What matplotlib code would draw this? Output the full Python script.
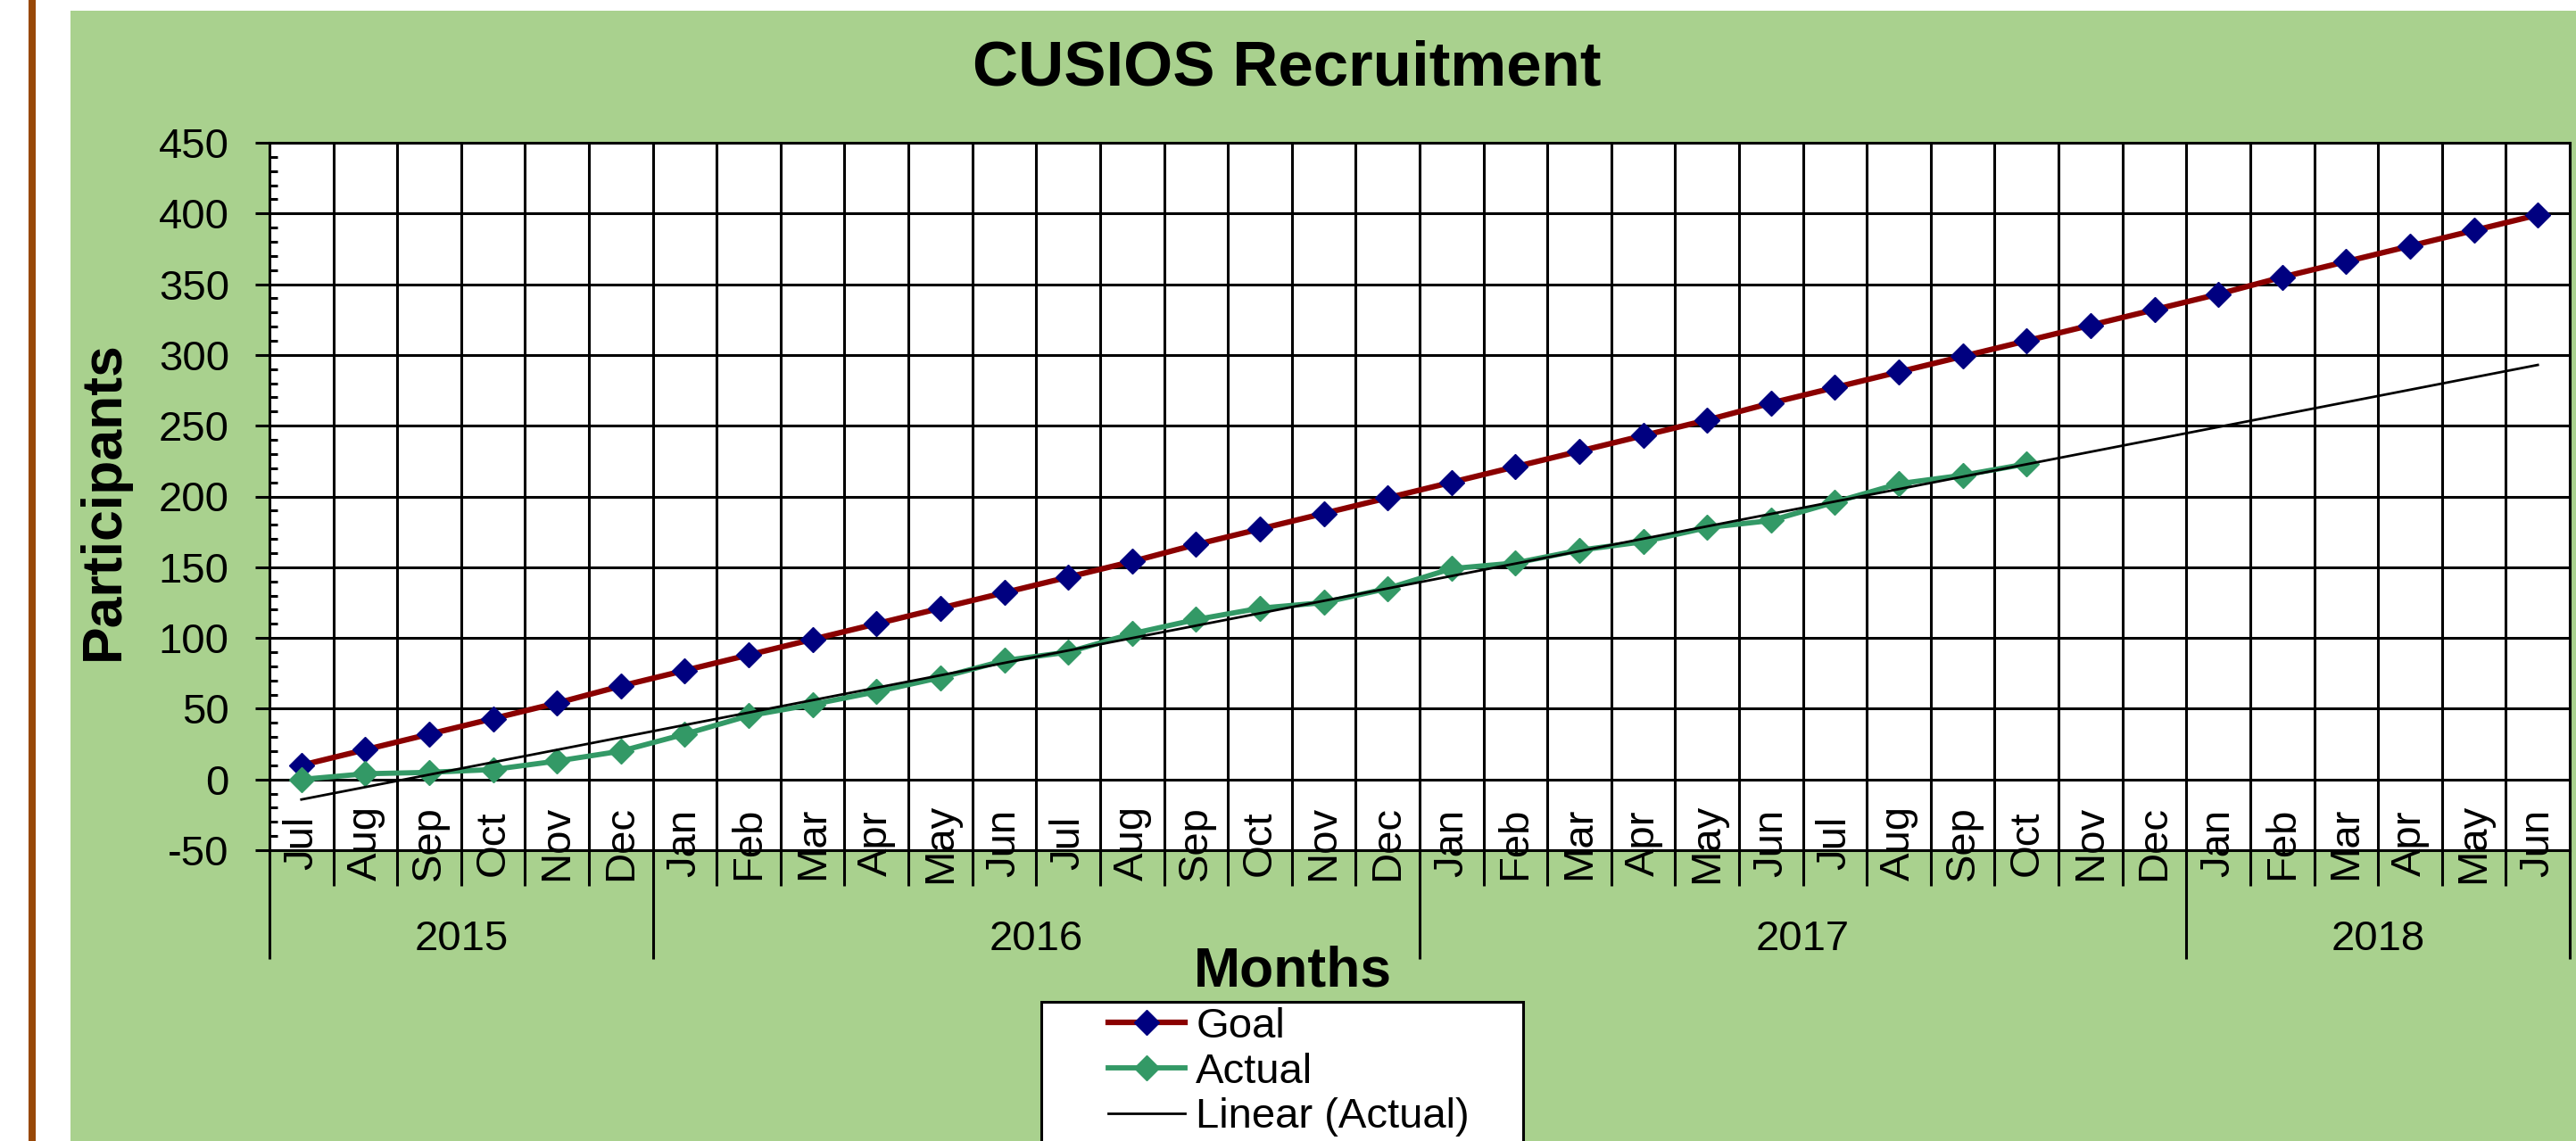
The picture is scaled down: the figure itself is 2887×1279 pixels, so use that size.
import numpy as np
import matplotlib
matplotlib.use("Agg")
import matplotlib.pyplot as plt
from matplotlib.patches import Rectangle
from matplotlib.lines import Line2D
from matplotlib.ticker import MultipleLocator, FixedLocator, NullFormatter

plt.rcParams['font.family'] = ['Liberation Sans', 'DejaVu Sans']
plt.rcParams['axes.unicode_minus'] = False

# data
months = ['Jul', 'Aug', 'Sep', 'Oct', 'Nov', 'Dec',
          'Jan', 'Feb', 'Mar', 'Apr', 'May', 'Jun',
          'Jul', 'Aug', 'Sep', 'Oct', 'Nov', 'Dec',
          'Jan', 'Feb', 'Mar', 'Apr', 'May', 'Jun',
          'Jul', 'Aug', 'Sep', 'Oct', 'Nov', 'Dec',
          'Jan', 'Feb', 'Mar', 'Apr', 'May', 'Jun']
years = ['2015', '2016', '2017', '2018']
year_months = [6, 12, 12, 6]

goal = [10, 21, 32, 43, 54, 66, 77, 88, 99, 110, 121, 132,
        143, 154, 166, 177, 188, 199, 210, 221, 232, 243, 254, 266,
        277, 288, 299, 310, 321, 332, 343, 355, 366, 377, 388, 399]
actual = [0, 4, 5, 7, 13, 20, 32, 45, 53, 62, 72, 84,
          90, 103, 113, 121, 125, 135, 149, 153, 162, 168, 178, 183,
          196, 209, 215, 223]

W, H = 2887, 1279
fig = plt.figure(figsize=(W / 100, H / 100), dpi=100)
fig.patch.set_facecolor('white')

# green chart area and brown rule on the left
fig.add_artist(Rectangle((79 / W, 0), 1 - 79 / W, (H - 12) / H, transform=fig.transFigure,
                         facecolor='#A9D18E', edgecolor='none', zorder=-2))
fig.add_artist(Line2D([36 / W, 36 / W], [0, 1], transform=fig.transFigure,
                      color='#984807', lw=5.8, zorder=-1))

ax = fig.add_axes([302 / W, (H - 953) / H, (2880 - 302) / W, (953 - 160) / H])
ax.set_facecolor('white')

x = np.arange(len(months))
xa = x[:len(actual)]

ax.plot(x, goal, color='#8A0000', lw=4.5, marker='D', ms=14,
        mfc='#000080', mec='#000080', label='Goal', zorder=3)
ax.plot(xa, actual, color='#339966', lw=4.2, marker='D', ms=14,
        mfc='#339966', mec='#339966', label='Actual', zorder=3)
coef = np.polyfit(xa, actual, 1)
ax.plot(x, np.polyval(coef, x), color='black', lw=2, label='Linear (Actual)', zorder=4)

# y axis
ax.set_ylim(-50, 450)
ax.set_yticks(np.arange(-50, 451, 50))
ax.yaxis.set_minor_locator(MultipleLocator(10))
ax.tick_params(axis='y', which='major', direction='out', length=11.5, width=2.2,
               labelsize=34, pad=21)
ax.tick_params(axis='y', which='minor', direction='in', length=6.5, width=2.2)

# x axis: category boundaries as ticks/gridlines, year boundaries longer
ax.set_xlim(-0.5, len(months) - 0.5)
year_edges = np.cumsum([0] + year_months) - 0.5
ax.xaxis.set_major_locator(FixedLocator(year_edges))
ax.xaxis.set_minor_locator(FixedLocator(np.arange(len(months) + 1) - 0.5))
ax.xaxis.set_major_formatter(NullFormatter())
ax.xaxis.set_minor_formatter(NullFormatter())
ax.tick_params(axis='x', which='major', direction='out', length=88, width=2.2)
ax.tick_params(axis='x', which='minor', direction='out', length=29, width=2.2)

ax.grid(axis='x', which='both', color='black', lw=2.2)
ax.grid(axis='y', which='major', color='black', lw=2.2)
ax.set_axisbelow(True)
for s in ax.spines.values():
    s.set_linewidth(2.2)
    s.set_color('black')

trans = ax.get_xaxis_transform()
for i, m in enumerate(months):
    ax.text(i, 0.0101, m, transform=trans, rotation=90, ha='center', va='center',
            fontsize=34, clip_on=False, zorder=5)
for k, yr in enumerate(years):
    xc = (year_edges[k] + year_edges[k + 1]) / 2
    ax.text(xc, -0.1412, yr, transform=trans, ha='center', va='baseline',
            fontsize=34, clip_on=False)

# titles
fig.text(1442 / W, (H - 95) / H, 'CUSIOS Recruitment', ha='center', va='baseline',
         fontsize=51, fontweight='bold')
fig.text(116 / W, (H - 561) / H, 'Participants', rotation=90, ha='center', va='center',
         fontsize=45, fontweight='bold')
fig.text(1449 / W, (H - 1105) / H, 'Months', ha='center', va='baseline',
         fontsize=45, fontweight='bold')

# legend box runs off the bottom edge
fig.add_artist(Rectangle((1167 / W, -0.05), 540 / W, (H - 1123) / H + 0.05,
                         transform=fig.transFigure, facecolor='white',
                         edgecolor='black', lw=2.2, zorder=4))
handles, labels = ax.get_legend_handles_labels()
leg = fig.legend(handles, labels, loc='upper left', bbox_to_anchor=(1242 / W, (H - 1129) / H),
                 frameon=False, fontsize=34, borderpad=0, borderaxespad=0,
                 handlelength=1.83, handletextpad=0.25, labelspacing=0.14)
leg.set_zorder(5)

fig.savefig('out.png', dpi=100)
